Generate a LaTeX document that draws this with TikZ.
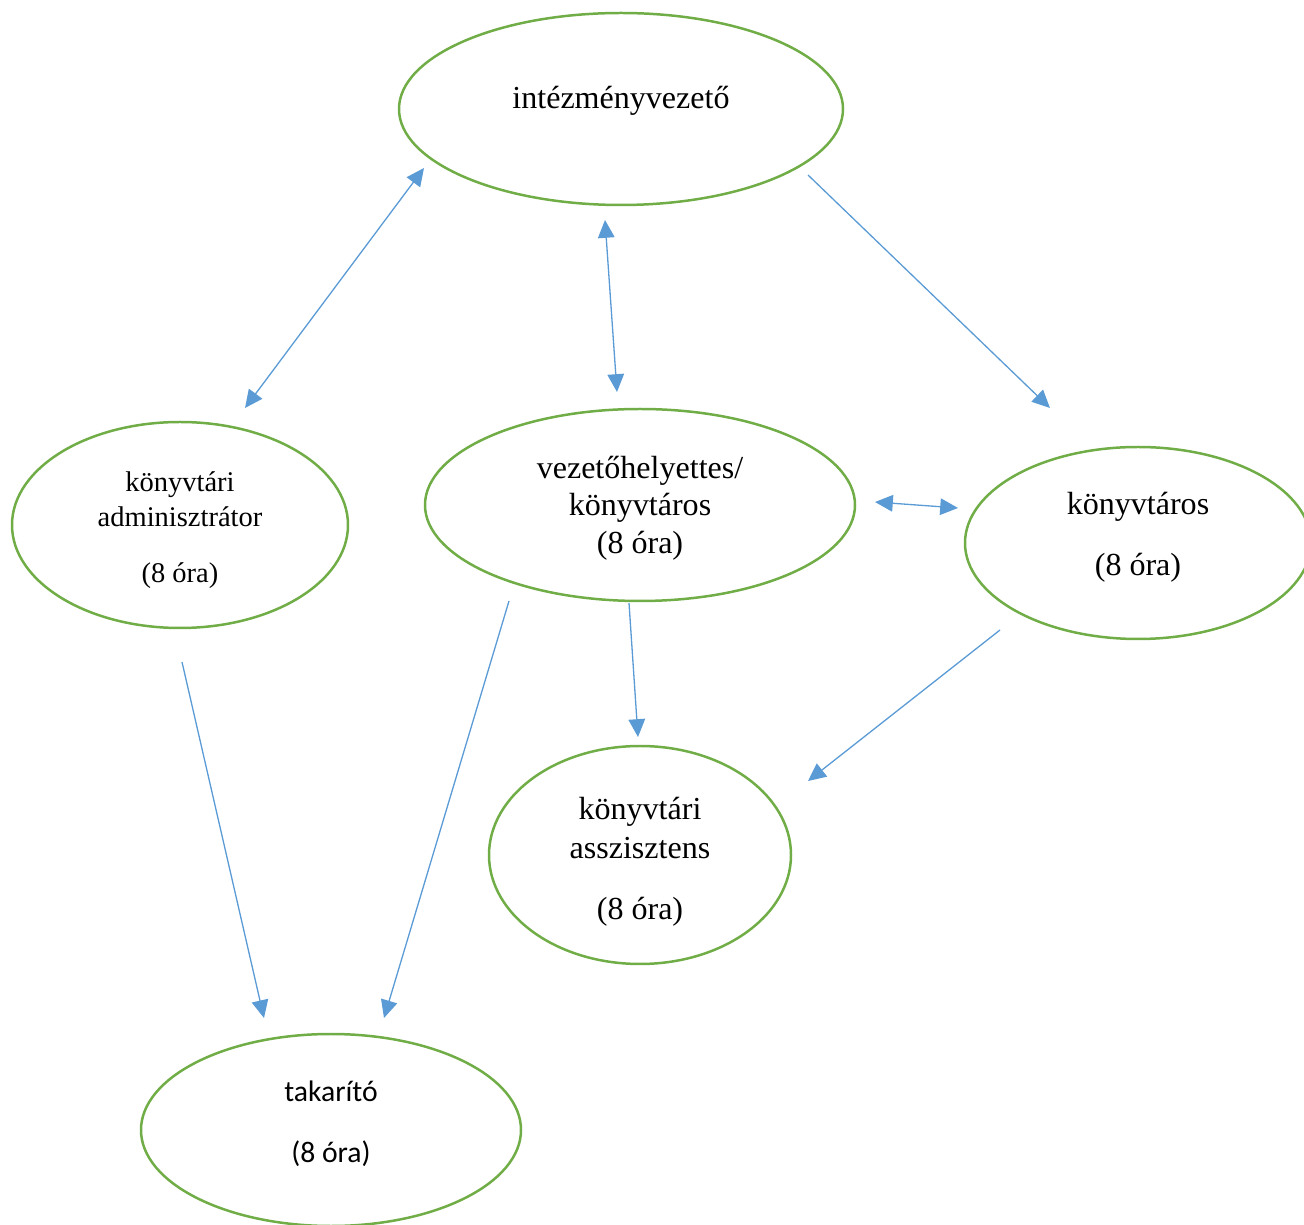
\documentclass[tikz,border=0pt]{standalone}
\usepackage{fontspec}
\setmainfont{Liberation Serif}
\newfontfamily\calibrifont{Carlito}
\usetikzlibrary{arrows.meta}
\usetikzlibrary{shapes.geometric}
\usepackage{xcolor}
\definecolor{ovalgreen}{HTML}{70AD47}
\definecolor{linkblue}{HTML}{5B9BD5}
\newcommand{\pxu}{0.0148cm}

\tikzset{
  oval/.style={ellipse, draw=ovalgreen, line width=1.05pt, inner sep=0pt},
  label text/.style={align=center, font=\fontsize{13.5}{15.8}\selectfont, inner sep=0pt},
  link/.style={draw=linkblue, line width=0.55pt, -{Triangle[length=7.5pt,width=7pt]}},
  twoway/.style={link, {Triangle[length=7.5pt,width=7pt]}-{Triangle[length=7.5pt,width=7pt]}}
}

\begin{document}
\begin{tikzpicture}[x=\pxu, y=-\pxu]
  \useasboundingbox (0,0) rectangle (1304,1225);

  % ovals
  \node[oval, minimum width=444*\pxu, minimum height=192*\pxu] (vez) at (621,109) {};
  \node[oval, minimum width=336*\pxu, minimum height=206*\pxu] (adm) at (180,525) {};
  \node[oval, minimum width=430*\pxu, minimum height=192*\pxu] (hely) at (640,505) {};
  \node[oval, minimum width=346*\pxu, minimum height=192*\pxu] (konyv) at (1138,543) {};
  \node[oval, minimum width=302*\pxu, minimum height=218*\pxu] (asszt) at (640,855) {};
  \node[oval, minimum width=380*\pxu, minimum height=192*\pxu] (tak) at (331,1130) {};

  % texts
  \node[label text] (vez-t) at (621,101) {intézményvezető};
  \node[label text, font=\fontsize{12}{15.1}\selectfont] (adm-t) at (180,530) {könyvtári\\adminisztrátor\\[8.4pt](8 óra)};
  \node[label text] (hely-t) at (640,508) {vezetőhelyettes/\\könyvtáros\\(8 óra)};
  \node[label text] (konyv-t) at (1138,537) {könyvtáros\\[9.8pt](8 óra)};
  \node[label text, font=\fontsize{13.5}{16.4}\selectfont] (asszt-t) at (640,862) {könyvtári\\asszisztens\\[9.2pt](8 óra)};
  \node[label text, font=\calibrifont\fontsize{12.5}{15}\selectfont] (tak-t) at (331,1124) {takarító\\[10.6pt](8 óra)};

  % arrow ends
  \coordinate (a1) at (245,408);  \coordinate (b1) at (424,168);
  \coordinate (a2) at (605,220);  \coordinate (b2) at (617,392);
  \coordinate (a3) at (808,175);  \coordinate (b3) at (1050,408);
  \coordinate (a4) at (875,502);  \coordinate (b4) at (958,508);
  \coordinate (a5) at (1000,630); \coordinate (b5) at (808,781);
  \coordinate (a6) at (629,603);  \coordinate (b6) at (638,737);
  \coordinate (a7) at (182,662);  \coordinate (b7) at (264,1018);
  \coordinate (a8) at (509,601);  \coordinate (b8) at (384,1018);

  % connectors
  \draw[twoway] (a1) -- (b1);
  \draw[twoway] (a2) -- (b2);
  \draw[link] (a3) -- (b3);
  \draw[twoway] (a4) -- (b4);
  \draw[link] (a5) -- (b5);
  \draw[link] (a6) -- (b6);
  \draw[link] (a7) -- (b7);
  \draw[link] (a8) -- (b8);
\end{tikzpicture}
\end{document}
